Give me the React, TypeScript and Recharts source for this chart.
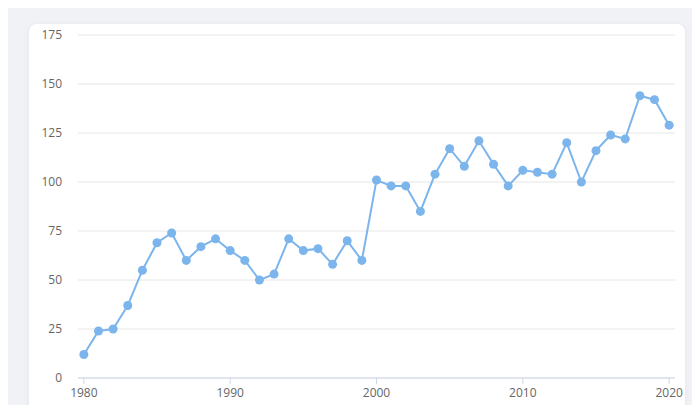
import { LineChart, Line, XAxis, YAxis, CartesianGrid } from "recharts";

const years = [
  1980, 1981, 1982, 1983, 1984, 1985, 1986, 1987, 1988, 1989,
  1990, 1991, 1992, 1993, 1994, 1995, 1996, 1997, 1998, 1999,
  2000, 2001, 2002, 2003, 2004, 2005, 2006, 2007, 2008, 2009,
  2010, 2011, 2012, 2013, 2014, 2015, 2016, 2017, 2018, 2019, 2020,
];

const values = [
  12, 24, 25, 37, 55, 69, 74, 60, 67, 71,
  65, 60, 50, 53, 71, 65, 66, 58, 70, 60,
  101, 98, 98, 85, 104, 117, 108, 121, 109, 98,
  106, 105, 104, 120, 100, 116, 124, 122, 144, 142, 129,
];

const xTicks = [1980, 1990, 2000, 2010, 2020];
const yTicks = [0, 25, 50, 75, 100, 125, 150, 175];

const data = years.map((year, i) => ({ year, value: values[i] }));

const LINE = "#7cb5ec";
const tickStyle = { fill: "#666666", fontSize: 12, fontFamily: "'Open Sans', sans-serif" };

export default function App() {
  return (
    <div style={{ background: "#f0f2f5", height: 397, position: "relative", overflow: "hidden" }}>
      <div
        style={{
          position: "absolute",
          left: 21,
          top: 16,
          width: 656,
          height: 420,
          background: "#ffffff",
          borderRadius: 8,
          boxShadow: "0 1px 6px rgba(0,0,0,0.06)",
        }}
      >
        <LineChart width={656} height={382} data={data} margin={{ top: 11, right: 10, bottom: 0, left: 0 }}>
          <CartesianGrid vertical={false} stroke="#e6e6e6" />
          <XAxis
            dataKey="year"
            type="number"
            domain={[1979.6, 2020.4]}
            ticks={xTicks}
            height={28}
            stroke="#ccd6eb"
            tickSize={6}
            tickMargin={4}
            tick={tickStyle}
            allowDataOverflow
          />
          <YAxis
            domain={[0, 175]}
            ticks={yTicks}
            width={49}
            axisLine={false}
            tickLine={false}
            tickSize={0}
            tickMargin={16}
            tick={tickStyle}
          />
          <Line
            type="linear"
            dataKey="value"
            stroke={LINE}
            strokeWidth={2}
            dot={{ r: 4.5, fill: LINE, stroke: LINE, strokeWidth: 0 }}
            isAnimationActive={false}
          />
        </LineChart>
      </div>
    </div>
  );
}
